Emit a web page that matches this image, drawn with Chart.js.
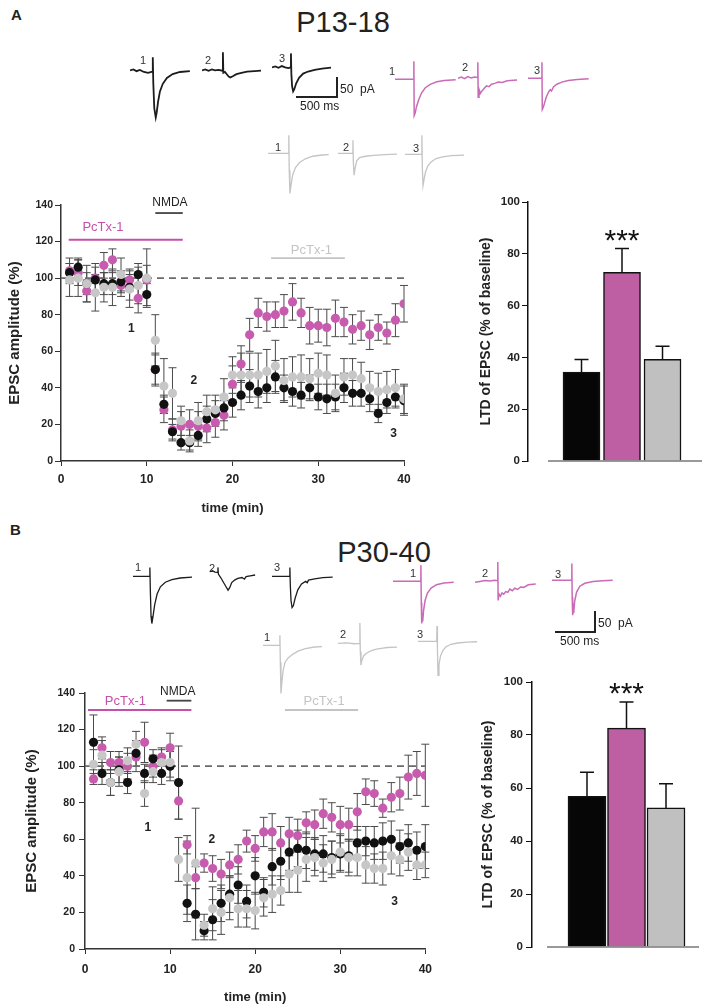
<!DOCTYPE html>
<html>
<head>
<meta charset="utf-8">
<title>LTD of EPSC: P13-18 and P30-40</title>
<script src="https://cdn.jsdelivr.net/npm/chart.js@4.4.1/dist/chart.umd.min.js"></script>
<style>
  html, body { margin: 0; padding: 0; background: #fff; }
  body { position: relative; width: 708px; height: 1007px; overflow: hidden;
         font-family: "Liberation Sans", Arial, Helvetica, sans-serif; color: #222; }
  canvas { position: absolute; }
  .panel { position: absolute; font-weight: bold; font-size: 15px; }
  .title { position: absolute; font-size: 29px; transform: translate(-50%, -50%); white-space: nowrap; }
  .num { position: absolute; font-size: 11px; transform: translate(-50%, -50%); color: #333; will-change: transform; }
  .sbar { position: absolute; background: #222; }
  .stxt { position: absolute; font-size: 12px; transform: translateY(-50%); white-space: nowrap; will-change: transform; }
</style>
</head>
<body>
<div class="panel" style="left:11px;top:6px">A</div>
<div class="title" style="left:343px;top:22px">P13-18</div>
<div class="num" style="left:143px;top:60px">1</div>
<div class="num" style="left:208px;top:60px">2</div>
<div class="num" style="left:282px;top:58px">3</div>
<div class="num" style="left:392px;top:71px">1</div>
<div class="num" style="left:465px;top:67px">2</div>
<div class="num" style="left:537px;top:70px">3</div>
<div class="num" style="left:278px;top:147px">1</div>
<div class="num" style="left:346px;top:147px">2</div>
<div class="num" style="left:416px;top:148px">3</div>
<div class="sbar" style="left:336px;top:77px;width:1.5px;height:21px"></div>
<div class="sbar" style="left:296px;top:96px;width:42px;height:1.5px"></div>
<div class="stxt" style="left:340px;top:89px">50&nbsp; pA</div>
<div class="stxt" style="left:300px;top:106px">500 ms</div>

<div class="panel" style="left:10px;top:521px">B</div>
<div class="title" style="left:384px;top:552px">P30-40</div>
<div class="num" style="left:138px;top:567px">1</div>
<div class="num" style="left:212px;top:568px">2</div>
<div class="num" style="left:277px;top:567px">3</div>
<div class="num" style="left:413px;top:573px">1</div>
<div class="num" style="left:485px;top:573px">2</div>
<div class="num" style="left:558px;top:574px">3</div>
<div class="num" style="left:267px;top:637px">1</div>
<div class="num" style="left:343px;top:634px">2</div>
<div class="num" style="left:420px;top:634px">3</div>
<div class="sbar" style="left:594px;top:611px;width:1.5px;height:21px"></div>
<div class="sbar" style="left:555px;top:631px;width:41px;height:1.5px"></div>
<div class="stxt" style="left:598px;top:623px">50&nbsp; pA</div>
<div class="stxt" style="left:560px;top:641px">500 ms</div>

<script>
// ---- time course data (% of baseline EPSC amplitude), one point per minute ----
const minutes = [1,2,3,4,5,6,7,8,9,10,11,12,13,14,15,16,17,18,19,20,
                 21,22,23,24,25,26,27,28,29,30,31,32,33,34,35,36,37,38,39,40];

// panel A, P13-18
const aMagenta    = [104,103,93,100,107,110,96,99,89,99,50,28,17,19,20,19,18,21,25,42,
                     53,69,81,79,80,82,87,81,74,74,73,78,76,72,74,69,73,70,77,86];
const aMagentaErr = [7,7,6,8,7,6,6,6,8,8,9,7,6,8,8,8,8,8,8,10,
                     10,9,8,8,7,9,10,8,10,9,10,10,8,8,8,8,7,6,9,10];
const aGrey       = [99,100,97,92,95,95,102,94,96,100,66,41,37,22,11,22,27,28,35,47,
                     47,47,47,49,52,44,46,46,45,48,47,37,46,47,45,40,38,39,40,34];
const aGreyErr    = [9,10,10,10,8,10,9,10,10,16,14,15,14,8,6,10,9,8,10,10,
                     12,12,12,12,14,12,11,12,11,11,11,10,10,9,9,9,10,10,10,8];
const aBlack      = [103,106,97,99,97,97,98,95,102,91,50,31,16,10,10,14,23,26,29,32,
                     36,41,38,40,46,40,38,36,40,35,34,35,40,37,37,34,26,32,35,33];
const aBlackErr   = [5,5,6,7,6,6,6,7,6,6,8,5,4,4,4,6,7,7,7,8,
                     8,9,9,8,9,7,8,7,7,7,8,7,8,7,7,7,5,6,6,8];

// panel B, P30-40
const bMagenta    = [93,110,102,102,100,105,113,100,105,110,81,57,39,47,44,41,46,49,59,55,
                     64,64,58,63,62,69,68,74,72,68,68,75,86,85,77,83,85,94,96,95];
const bMagentaErr = [3,6,6,6,7,8,11,6,5,8,10,5,6,5,7,8,7,8,6,7,
                     8,10,9,9,9,6,8,8,8,10,9,10,7,7,5,8,9,12,12,17];
const bBlack      = [113,96,91,98,91,107,96,104,96,100,91,25,19,10,16,25,30,35,26,40,
                     31,45,48,53,55,54,52,52,50,52,51,58,59,58,59,60,56,58,54,56];
const bBlackErr   = [15,6,7,7,6,7,5,5,6,8,20,10,14,5,11,10,10,10,9,10,
                     8,10,10,10,10,10,9,10,9,10,9,9,8,9,10,10,9,10,10,12];
const bGrey       = [101,106,91,97,103,112,85,97,102,102,49,39,47,13,22,20,28,22,22,21,
                     28,30,32,41,43,49,50,47,49,53,50,50,46,44,44,51,49,53,46,46];
const bGreyErr    = [8,8,7,8,7,7,7,6,7,8,12,20,30,6,12,12,12,10,10,10,
                     10,10,8,10,12,12,10,10,10,10,10,10,10,8,9,10,9,10,8,7];

// LTD summary bars (% of baseline): control, PcTx-1 before NMDA, PcTx-1 after NMDA
const barGroups = ['control', 'PcTx-1 + NMDA', 'NMDA + PcTx-1'];
const aBarMeans = [34.3, 72.8, 39.3];
const aBarErr   = [4.9, 9.2, 5.0];
const bBarMeans = [56.9, 82.6, 52.5];
const bBarErr   = [9.0, 9.9, 9.1];

// drug application bars and stage labels (minutes, % level)
const aDrugs = [
  { text: 'PcTx-1', from: 0.9, to: 14.2, level: 121, textAt: 4.9, textLevel: 128, kind: 'magenta' },
  { text: 'NMDA', from: 11.0, to: 14.2, level: 135.6, textAt: 12.7, textLevel: 141, kind: 'nmda' },
  { text: 'PcTx-1', from: 24.5, to: 33.1, level: 111, textAt: 29.2, textLevel: 115, kind: 'grey' }
];
const bDrugs = [
  { text: 'PcTx-1', from: 0.35, to: 12.5, level: 130.7, textAt: 4.75, textLevel: 135.5, kind: 'magenta' },
  { text: 'NMDA', from: 9.6, to: 12.5, level: 135.8, textAt: 10.9, textLevel: 140.5, kind: 'nmda' },
  { text: 'PcTx-1', from: 23.5, to: 32.1, level: 130.7, textAt: 28.1, textLevel: 135.5, kind: 'grey' }
];
const aStages = [['1', 8.2, 72.5], ['2', 15.5, 44], ['3', 38.8, 15]];
const bStages = [['1', 7.4, 66.5], ['2', 14.9, 60], ['3', 36.4, 26]];

// example EPSC traces, [ms, pA] pairs
const aTracesBlack = [
  [[0,0],[40,2],[80,-2],[120,1],[170,-4],[220,-6],[272,-3],[278,31],[284,-30],[296,-90],[314,-112],[326,-100],[342,-75],[365,-50],[400,-32],[450,-18],[520,-9],[610,-4],[730,-2]],
  [[0,0],[40,2],[80,-1],[120,2],[160,0],[200,1],[250,-1],[255,43],[260,-6],[280,-4],[305,-10],[325,-15],[345,-17],[375,-14],[420,-9],[480,-6],[550,-3],[640,-2],[720,-1]],
  [[0,0],[40,2],[80,-1],[120,3],[160,0],[200,-2],[226,0],[231,33],[236,-15],[245,-45],[258,-57],[272,-52],[295,-38],[330,-25],[380,-15],[440,-10],[520,-6],[610,-3],[720,-1]]
];
const aTracesMagenta = [
  [[0,0],[120,0],[226,0],[230,43],[234,-86],[246,-80],[262,-65],[290,-48],[325,-32],[370,-20],[430,-12],[510,-6],[600,-3],[740,-1]],
  [[0,0],[40,3],[80,-1],[120,4],[160,1],[200,3],[238,2],[242,38],[246,-45],[256,-26],[272,-36],[292,-30],[318,-24],[348,-18],[378,-20],[408,-14],[448,-12],[490,-9],[540,-10],[600,-6],[720,-4]],
  [[0,0],[100,0],[166,0],[170,38],[174,-74],[184,-70],[200,-60],[222,-45],[252,-32],[272,-27],[287,-30],[312,-20],[352,-14],[412,-9],[492,-5],[600,-3],[740,-1]]
];
const aTracesGrey = [
  [[0,0],[140,0],[250,0],[254,43],[259,-40],[267,-95],[279,-78],[300,-52],[335,-34],[385,-22],[455,-13],[545,-7],[660,-4],[740,-3]],
  [[0,0],[100,0],[178,0],[182,31],[187,-20],[196,-52],[208,-35],[228,-18],[263,-10],[333,-7],[433,-5],[573,-3],[720,-2]],
  [[0,0],[120,0],[202,0],[206,45],[211,-30],[220,-74],[232,-60],[250,-42],[278,-28],[318,-18],[378,-10],[458,-6],[568,-3],[720,-2]]
];
const bTracesBlack = [
  [[0,0],[100,0],[202,0],[206,21],[211,-30],[220,-95],[230,-112],[244,-95],[264,-68],[294,-42],[334,-25],[394,-14],[474,-8],[574,-4],[720,-2]],
  [[0,4],[30,6],[60,3],[92,2],[97,14],[102,-2],[130,-10],[160,-20],[190,-30],[220,-40],[240,-34],[265,-22],[300,-16],[340,-12],[390,-10],[420,-14],[440,-8],[490,-6],[550,-4]],
  [[0,0],[120,0],[214,0],[218,21],[223,-20],[232,-58],[245,-74],[260,-70],[282,-52],[315,-32],[360,-18],[410,-12],[430,-15],[445,-9],[520,-6],[620,-3],[740,-2]]
];
const bTracesMagenta = [
  [[0,0],[150,0],[336,0],[340,38],[345,-50],[350,-100],[356,-75],[362,-95],[372,-70],[392,-45],[420,-28],[465,-16],[530,-8],[620,-4],[740,-2]],
  [[0,0],[60,2],[120,4],[180,3],[240,5],[274,4],[278,48],[282,-43],[293,-28],[310,-33],[330,-25],[350,-28],[375,-22],[400,-24],[425,-16],[455,-20],[485,-14],[520,-17],[555,-11],[595,-12],[650,-6],[740,-4]],
  [[0,0],[120,0],[238,0],[242,40],[246,-40],[252,-83],[258,-55],[264,-78],[276,-50],[300,-28],[340,-14],[400,-7],[500,-3],[620,-1],[740,0]]
];
const bTracesGrey = [
  [[0,0],[80,0],[202,0],[206,24],[211,-40],[219,-114],[229,-90],[245,-60],[269,-40],[307,-30],[357,-22],[427,-14],[517,-8],[627,-4],[720,-3]],
  [[0,0],[100,1],[200,-1],[263,0],[267,48],[272,-20],[280,-52],[292,-40],[312,-30],[343,-24],[378,-20],[418,-17],[468,-14],[528,-12],[600,-10],[720,-9]],
  [[0,0],[120,0],[228,0],[232,36],[237,-20],[244,-81],[256,-55],[274,-35],[302,-22],[342,-13],[402,-7],[482,-4],[602,-2],[720,-1]]
];

const colors = {
  black: '#111111', magenta: '#c75cae', grey: '#c7c7c7',
  barBlack: '#060606', barMagenta: '#bf5fa3', barGrey: '#c0c0c0',
  traceBlack: '#1c1c1c', traceMagenta: '#c96bb6', traceGrey: '#c4c4c4',
  drugMagenta: '#c64fab', drugGrey: '#c4c4c4', nmda: '#444'
};

Chart.defaults.font.family = '"Liberation Sans", Arial, Helvetica, sans-serif';
Chart.defaults.color = '#222';
Chart.defaults.animation = false;
Chart.defaults.responsive = false;
Chart.defaults.plugins.legend.display = false;
Chart.defaults.plugins.tooltip.enabled = false;

function addCanvas(left, top, w, h) {
  const c = document.createElement('canvas');
  c.width = w; c.height = h;
  c.style.left = left + 'px'; c.style.top = top + 'px';
  c.style.width = w + 'px'; c.style.height = h + 'px';
  document.body.appendChild(c);
  return c;
}

// one small line chart per trace: 62 px = 756 ms, 97 px = 230 pA
function drawTrace(pts, color, left, baseline, width) {
  const cv = addCanvas(left, baseline - 25, 62, 97);
  new Chart(cv, {
    type: 'line',
    data: { datasets: [{
      data: pts.map(p => ({ x: p[0], y: p[1] })),
      borderColor: color, borderWidth: width, pointRadius: 0, tension: 0, clip: false
    }] },
    options: {
      layout: { padding: 0 },
      scales: {
        x: { type: 'linear', display: false, min: 0, max: 756 },
        y: { display: false, min: -170, max: 60 }
      }
    }
  });
}

// error bars, drawn under the points of the time course
const errorBars = {
  id: 'errorBars',
  beforeDatasetsDraw(chart) {
    const { ctx, scales: { x, y } } = chart;
    ctx.save();
    ctx.strokeStyle = '#4a4a4a';
    ctx.lineWidth = 1;
    chart.data.datasets.forEach(ds => {
      ds.data.forEach((p, i) => {
        const e = ds.err[i];
        const px = x.getPixelForValue(p.x);
        const hi = y.getPixelForValue(p.y + e), lo = y.getPixelForValue(p.y - e);
        ctx.beginPath();
        ctx.moveTo(px, hi); ctx.lineTo(px, lo);
        ctx.moveTo(px - 4, hi); ctx.lineTo(px + 4, hi);
        ctx.moveTo(px - 4, lo); ctx.lineTo(px + 4, lo);
        ctx.stroke();
      });
    });
    ctx.restore();
  }
};

function marks(drugs, stages) {
  return {
    id: 'marks',
    beforeDatasetsDraw(chart) {
      const { ctx, scales: { x, y } } = chart;
      ctx.save();
      ctx.setLineDash([7, 5]);
      ctx.strokeStyle = '#6b6b6b';
      ctx.lineWidth = 1.8;
      ctx.beginPath();
      ctx.moveTo(x.getPixelForValue(0), y.getPixelForValue(100));
      ctx.lineTo(x.getPixelForValue(40), y.getPixelForValue(100));
      ctx.stroke();
      ctx.restore();
    },
    afterDraw(chart) {
      const { ctx, scales: { x, y } } = chart;
      ctx.save();
      drugs.forEach(d => {
        const col = d.kind === 'magenta' ? colors.drugMagenta : d.kind === 'grey' ? colors.drugGrey : colors.nmda;
        ctx.strokeStyle = col;
        ctx.lineWidth = 1.8;
        ctx.beginPath();
        ctx.moveTo(x.getPixelForValue(d.from), y.getPixelForValue(d.level));
        ctx.lineTo(x.getPixelForValue(d.to), y.getPixelForValue(d.level));
        ctx.stroke();
        ctx.fillStyle = d.kind === 'nmda' ? '#222' : col;
        ctx.font = (d.kind === 'nmda' ? '12px' : '13px') + ' "Liberation Sans", Arial, sans-serif';
        ctx.textAlign = 'center';
        ctx.textBaseline = 'middle';
        ctx.fillText(d.text, x.getPixelForValue(d.textAt), y.getPixelForValue(d.textLevel));
      });
      ctx.fillStyle = '#222';
      ctx.font = 'bold 12px "Liberation Sans", Arial, sans-serif';
      stages.forEach(s => ctx.fillText(s[0], x.getPixelForValue(s[1]), y.getPixelForValue(s[2])));
      ctx.restore();
    }
  };
}

function series(vals, errs, color) {
  return {
    data: minutes.map((t, i) => ({ x: t, y: vals[i] })),
    err: errs,
    backgroundColor: color, borderColor: color,
    pointRadius: 4.6, pointBorderWidth: 0
  };
}

function timeCourse(cv, cfg) {
  new Chart(cv, {
    type: 'scatter',
    data: { datasets: [
      series(cfg.grey, cfg.greyErr, colors.grey),
      series(cfg.black, cfg.blackErr, colors.black),
      series(cfg.magenta, cfg.magentaErr, colors.magenta)
    ] },
    options: {
      layout: { padding: cfg.pad },
      scales: {
        x: {
          type: 'linear', min: 0, max: 40,
          afterFit: s => { s.height = cfg.xh; },
          ticks: { stepSize: 10, padding: cfg.xtickPad, font: { size: 12, weight: 'bold' } },
          grid: { drawOnChartArea: false, tickLength: 5, color: '#333' },
          border: { color: '#333', width: 1.5 },
          title: { display: true, text: 'time (min)', font: { size: 13, weight: 'bold' },
                   padding: { top: 0, bottom: cfg.xtitlePad } }
        },
        y: {
          min: 0, max: 140,
          afterFit: s => { s.width = cfg.yw; },
          ticks: { stepSize: 20, padding: cfg.ytickPad, font: { size: 10.5, weight: 'bold' } },
          grid: { drawOnChartArea: false, tickLength: 6, color: '#333' },
          border: { color: '#333', width: 1.5 },
          title: { display: true, text: 'EPSC amplitude (%)', font: { size: 15, weight: 'bold' },
                   padding: { top: cfg.ytitlePad, bottom: 0 } }
        }
      }
    },
    plugins: [errorBars, marks(cfg.drugs, cfg.stages)]
  });
}

function barExtras(baseFrom) {
  return {
    id: 'barExtras',
    afterDatasetsDraw(chart) {
      const { ctx, scales: { x, y }, chartArea } = chart;
      const ds = chart.data.datasets[0];
      ctx.save();
      ctx.strokeStyle = '#777';
      ctx.lineWidth = 1.5;
      ctx.beginPath();
      ctx.moveTo(x.getPixelForValue(baseFrom), y.getPixelForValue(0));
      ctx.lineTo(chartArea.right, y.getPixelForValue(0));
      ctx.stroke();
      ctx.strokeStyle = '#111';
      ds.data.forEach((p, i) => {
        const px = x.getPixelForValue(p.x);
        const top = y.getPixelForValue(p.y), hi = y.getPixelForValue(p.y + ds.err[i]);
        ctx.beginPath();
        ctx.moveTo(px, top); ctx.lineTo(px, hi);
        ctx.moveTo(px - 7, hi); ctx.lineTo(px + 7, hi);
        ctx.stroke();
      });
      // significance above the PcTx-1 bar
      const p = ds.data[1];
      ctx.fillStyle = '#111';
      ctx.font = '30px "Liberation Sans", Arial, sans-serif';
      ctx.textAlign = 'center';
      ctx.textBaseline = 'top';
      ctx.fillText('***', x.getPixelForValue(p.x), y.getPixelForValue(p.y + ds.err[1]) - 22);
      ctx.restore();
    }
  };
}

function ltdBars(cv, cfg) {
  new Chart(cv, {
    type: 'bar',
    data: { datasets: [{
      label: 'LTD',
      data: cfg.means.map((m, i) => ({ x: i + 1, y: m, group: barGroups[i] })),
      err: cfg.err,
      backgroundColor: [colors.barBlack, colors.barMagenta, colors.barGrey],
      borderColor: '#111', borderWidth: 1.5, barThickness: cfg.bw
    }] },
    options: {
      layout: { padding: cfg.pad },
      scales: {
        x: { type: 'linear', display: false, offset: false, min: cfg.xmin, max: cfg.xmax },
        y: {
          min: 0, max: 100,
          afterFit: s => { s.width = cfg.yw; },
          ticks: { stepSize: 20, padding: cfg.ytickPad, font: { size: 11.5, weight: 'bold' } },
          grid: { drawOnChartArea: false, tickLength: 6, color: '#111' },
          border: { color: '#111', width: 1.5 },
          title: { display: true, text: 'LTD of EPSC (% of baseline)', font: { size: 14, weight: 'bold' },
                   padding: { top: cfg.ytitlePad, bottom: 0 } }
        }
      }
    },
    plugins: [barExtras(cfg.baseFrom)]
  });
}

// ---- panel A ----
const aStarts = { black: [130, 202, 272], magenta: [395, 458, 528], grey: [268, 338, 405] };
const aBase = { black: [70, 70, 67], magenta: [79, 78, 78], grey: [153, 153, 154] };
aTracesBlack.forEach((t, i) => drawTrace(t, colors.traceBlack, aStarts.black[i], aBase.black[i], 1.8));
aTracesMagenta.forEach((t, i) => drawTrace(t, colors.traceMagenta, aStarts.magenta[i], aBase.magenta[i], 1.5));
aTracesGrey.forEach((t, i) => drawTrace(t, colors.traceGrey, aStarts.grey[i], aBase.grey[i], 1.3));

timeCourse(addCanvas(0, 190, 420, 330), {
  magenta: aMagenta, magentaErr: aMagentaErr, grey: aGrey, greyErr: aGreyErr, black: aBlack, blackErr: aBlackErr,
  drugs: aDrugs, stages: aStages,
  pad: { left: 0, right: 16, top: 15, bottom: 0 },
  yw: 61, xh: 59, ytickPad: 2, xtickPad: 6, ytitlePad: 6, xtitlePad: 4
});
ltdBars(addCanvas(430, 190, 278, 290), {
  means: aBarMeans, err: aBarErr, bw: 37, xmin: -0.321, xmax: 3.975, baseFrom: 0.173,
  pad: { left: 0, right: 6, top: 12, bottom: 19 }, yw: 98, ytickPad: 2, ytitlePad: 48
});

// ---- panel B ----
const bStarts = { black: [133, 210, 272], magenta: [393, 475, 552], grey: [263, 338, 418] };
const bBase = { black: [576, 573, 576], magenta: [581, 582, 580], grey: [645, 643, 641] };
bTracesBlack.forEach((t, i) => drawTrace(t, colors.traceBlack, bStarts.black[i], bBase.black[i], 1.3));
bTracesMagenta.forEach((t, i) => drawTrace(t, colors.traceMagenta, bStarts.magenta[i], bBase.magenta[i], 1.5));
bTracesGrey.forEach((t, i) => drawTrace(t, colors.traceGrey, bStarts.grey[i], bBase.grey[i], 1.3));

timeCourse(addCanvas(0, 680, 440, 327), {
  magenta: bMagenta, magentaErr: bMagentaErr, grey: bGrey, greyErr: bGreyErr, black: bBlack, blackErr: bBlackErr,
  drugs: bDrugs, stages: bStages,
  pad: { left: 0, right: 10, top: 13, bottom: 0 },
  yw: 85, xh: 58, ytickPad: 4, xtickPad: 8, ytitlePad: 23, xtitlePad: 2
});
ltdBars(addCanvas(440, 670, 268, 300), {
  means: bBarMeans, err: bBarErr, bw: 38, xmin: -0.392, xmax: 3.835, baseFrom: -0.012,
  pad: { left: 0, right: 9, top: 12, bottom: 23 }, yw: 92, ytickPad: 3, ytitlePad: 40
});
</script>
</body>
</html>
